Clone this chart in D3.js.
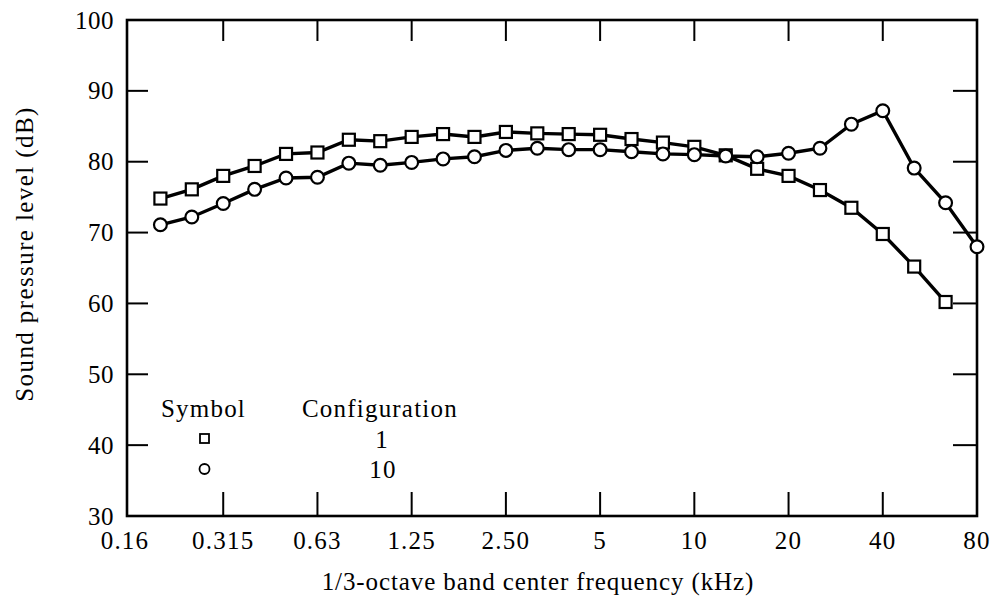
<!DOCTYPE html>
<html>
<head>
<meta charset="utf-8">
<script src="https://cdn.jsdelivr.net/npm/d3@7"></script>
<style>
  body { margin: 0; background: #fff; }
  svg text { font-family: "Liberation Serif", "DejaVu Serif", serif; fill: #000; }
</style>
</head>
<body>
<div id="chart"></div>
<script>
// 1/3-octave band centres (kHz), axis from 0.16 to 80
const bands = ["0.16","0.2","0.25","0.315","0.4","0.5","0.63","0.8","1","1.25","1.6","2","2.50","3.15","4","5","6.3","8","10","12.5","16","20","25","31.5","40","50","63","80"];
const tickBands = ["0.315","0.63","1.25","2.50","5","10","20","40"];
const edgeLabels = ["0.16","80"];
const yTicks = [40, 50, 60, 70, 80, 90];
const yLabels = [30, 40, 50, 60, 70, 80, 90, 100];

// configuration 1 (squares), 0.2 .. 63 kHz
const config1Bands = ["0.2","0.25","0.315","0.4","0.5","0.63","0.8","1","1.25","1.6","2","2.50","3.15","4","5","6.3","8","10","12.5","16","20","25","31.5","40","50","63"];
const config1 = [74.8, 76.1, 78.0, 79.4, 81.1, 81.3, 83.1, 82.9, 83.5, 83.9, 83.5, 84.2, 84.0, 83.9, 83.8, 83.2, 82.7, 82.1, 80.9, 79.0, 78.0, 76.0, 73.5, 69.8, 65.2, 60.2];

// configuration 10 (circles), 0.2 .. 80 kHz
const config10Bands = ["0.2","0.25","0.315","0.4","0.5","0.63","0.8","1","1.25","1.6","2","2.50","3.15","4","5","6.3","8","10","12.5","16","20","25","31.5","40","50","63","80"];
const config10 = [71.1, 72.2, 74.1, 76.1, 77.7, 77.8, 79.8, 79.5, 79.9, 80.4, 80.7, 81.6, 81.9, 81.7, 81.7, 81.4, 81.1, 81.0, 80.8, 80.7, 81.2, 81.9, 85.3, 87.2, 79.1, 74.2, 68.0];

const width = 997, height = 601;
const plot = { l: 127, r: 977, t: 20, b: 516 };

const svg = d3.select("#chart").append("svg")
    .attr("width", width)
    .attr("height", height);

const x = d3.scalePoint().domain(bands).range([129, plot.r]);
const y = d3.scaleLinear().domain([30, 100]).range([plot.b, plot.t]);

// frame
svg.append("rect")
    .attr("x", plot.l).attr("y", plot.t)
    .attr("width", plot.r - plot.l).attr("height", plot.b - plot.t)
    .attr("fill", "none").attr("stroke", "#000").attr("stroke-width", 2.6);

// inward ticks on all four sides
const tk = svg.append("g").attr("stroke", "#000").attr("stroke-width", 2);
tk.selectAll(".tb").data(tickBands).enter().append("line")
    .attr("x1", d => x(d)).attr("x2", d => x(d))
    .attr("y1", plot.b).attr("y2", plot.b - 24);
tk.selectAll(".tt").data(tickBands).enter().append("line")
    .attr("x1", d => x(d)).attr("x2", d => x(d))
    .attr("y1", plot.t).attr("y2", plot.t + 21);
tk.selectAll(".tl").data(yTicks).enter().append("line")
    .attr("x1", plot.l).attr("x2", plot.l + 21)
    .attr("y1", d => y(d)).attr("y2", d => y(d));
tk.selectAll(".tr").data(yTicks).enter().append("line")
    .attr("x1", plot.r).attr("x2", plot.r - 24)
    .attr("y1", d => y(d)).attr("y2", d => y(d));

// tick labels
svg.selectAll(".xl").data(edgeLabels.concat(tickBands)).enter().append("text")
    .attr("x", d => d === "0.16" ? plot.l - 2 : x(d))
    .attr("y", 549)
    .attr("text-anchor", "middle")
    .attr("font-size", 25)
    .attr("letter-spacing", 1.2)
    .text(d => d);

svg.selectAll(".yl").data(yLabels).enter().append("text")
    .attr("x", 114)
    .attr("y", d => y(d) + 8.5)
    .attr("text-anchor", "end")
    .attr("font-size", 25)
    .attr("letter-spacing", 0.5)
    .text(d => d);

// axis titles
svg.append("text")
    .attr("x", 538).attr("y", 590)
    .attr("text-anchor", "middle")
    .attr("font-size", 25)
    .attr("letter-spacing", 0.9)
    .text("1/3-octave band center frequency (kHz)");

svg.append("text")
    .attr("transform", "translate(33,254) rotate(-90)")
    .attr("text-anchor", "middle")
    .attr("font-size", 25)
    .attr("letter-spacing", 1.4)
    .text("Sound pressure level (dB)");

// series
const line = d3.line().x(d => x(d[0])).y(d => y(d[1]));
const s1 = config1Bands.map((b, i) => [b, config1[i]]);
const s10 = config10Bands.map((b, i) => [b, config10[i]]);

svg.append("path").datum(s1).attr("d", line)
    .attr("fill", "none").attr("stroke", "#000").attr("stroke-width", 3.4);
svg.selectAll(".sq").data(s1).enter().append("rect")
    .attr("x", d => x(d[0]) - 6).attr("y", d => y(d[1]) - 6)
    .attr("width", 12).attr("height", 12)
    .attr("fill", "#fff").attr("stroke", "#000").attr("stroke-width", 2.2);

svg.append("path").datum(s10).attr("d", line)
    .attr("fill", "none").attr("stroke", "#000").attr("stroke-width", 3.4);
svg.selectAll(".ci").data(s10).enter().append("circle")
    .attr("cx", d => x(d[0])).attr("cy", d => y(d[1]))
    .attr("r", 6.4)
    .attr("fill", "#fff").attr("stroke", "#000").attr("stroke-width", 2.2);

// legend
const lg = svg.append("g").attr("font-size", 25).attr("letter-spacing", 1.2);
lg.append("text").attr("x", 161).attr("y", 417).text("Symbol");
lg.append("text").attr("x", 302).attr("y", 417).text("Configuration");
lg.append("rect").attr("x", 200).attr("y", 434).attr("width", 9).attr("height", 9)
    .attr("fill", "#fff").attr("stroke", "#000").attr("stroke-width", 1.8);
lg.append("circle").attr("cx", 204.5).attr("cy", 469).attr("r", 5)
    .attr("fill", "#fff").attr("stroke", "#000").attr("stroke-width", 1.8);
lg.append("text").attr("x", 382).attr("y", 448).attr("text-anchor", "middle").text("1");
lg.append("text").attr("x", 383).attr("y", 478).attr("text-anchor", "middle").text("10");
</script>
</body>
</html>
